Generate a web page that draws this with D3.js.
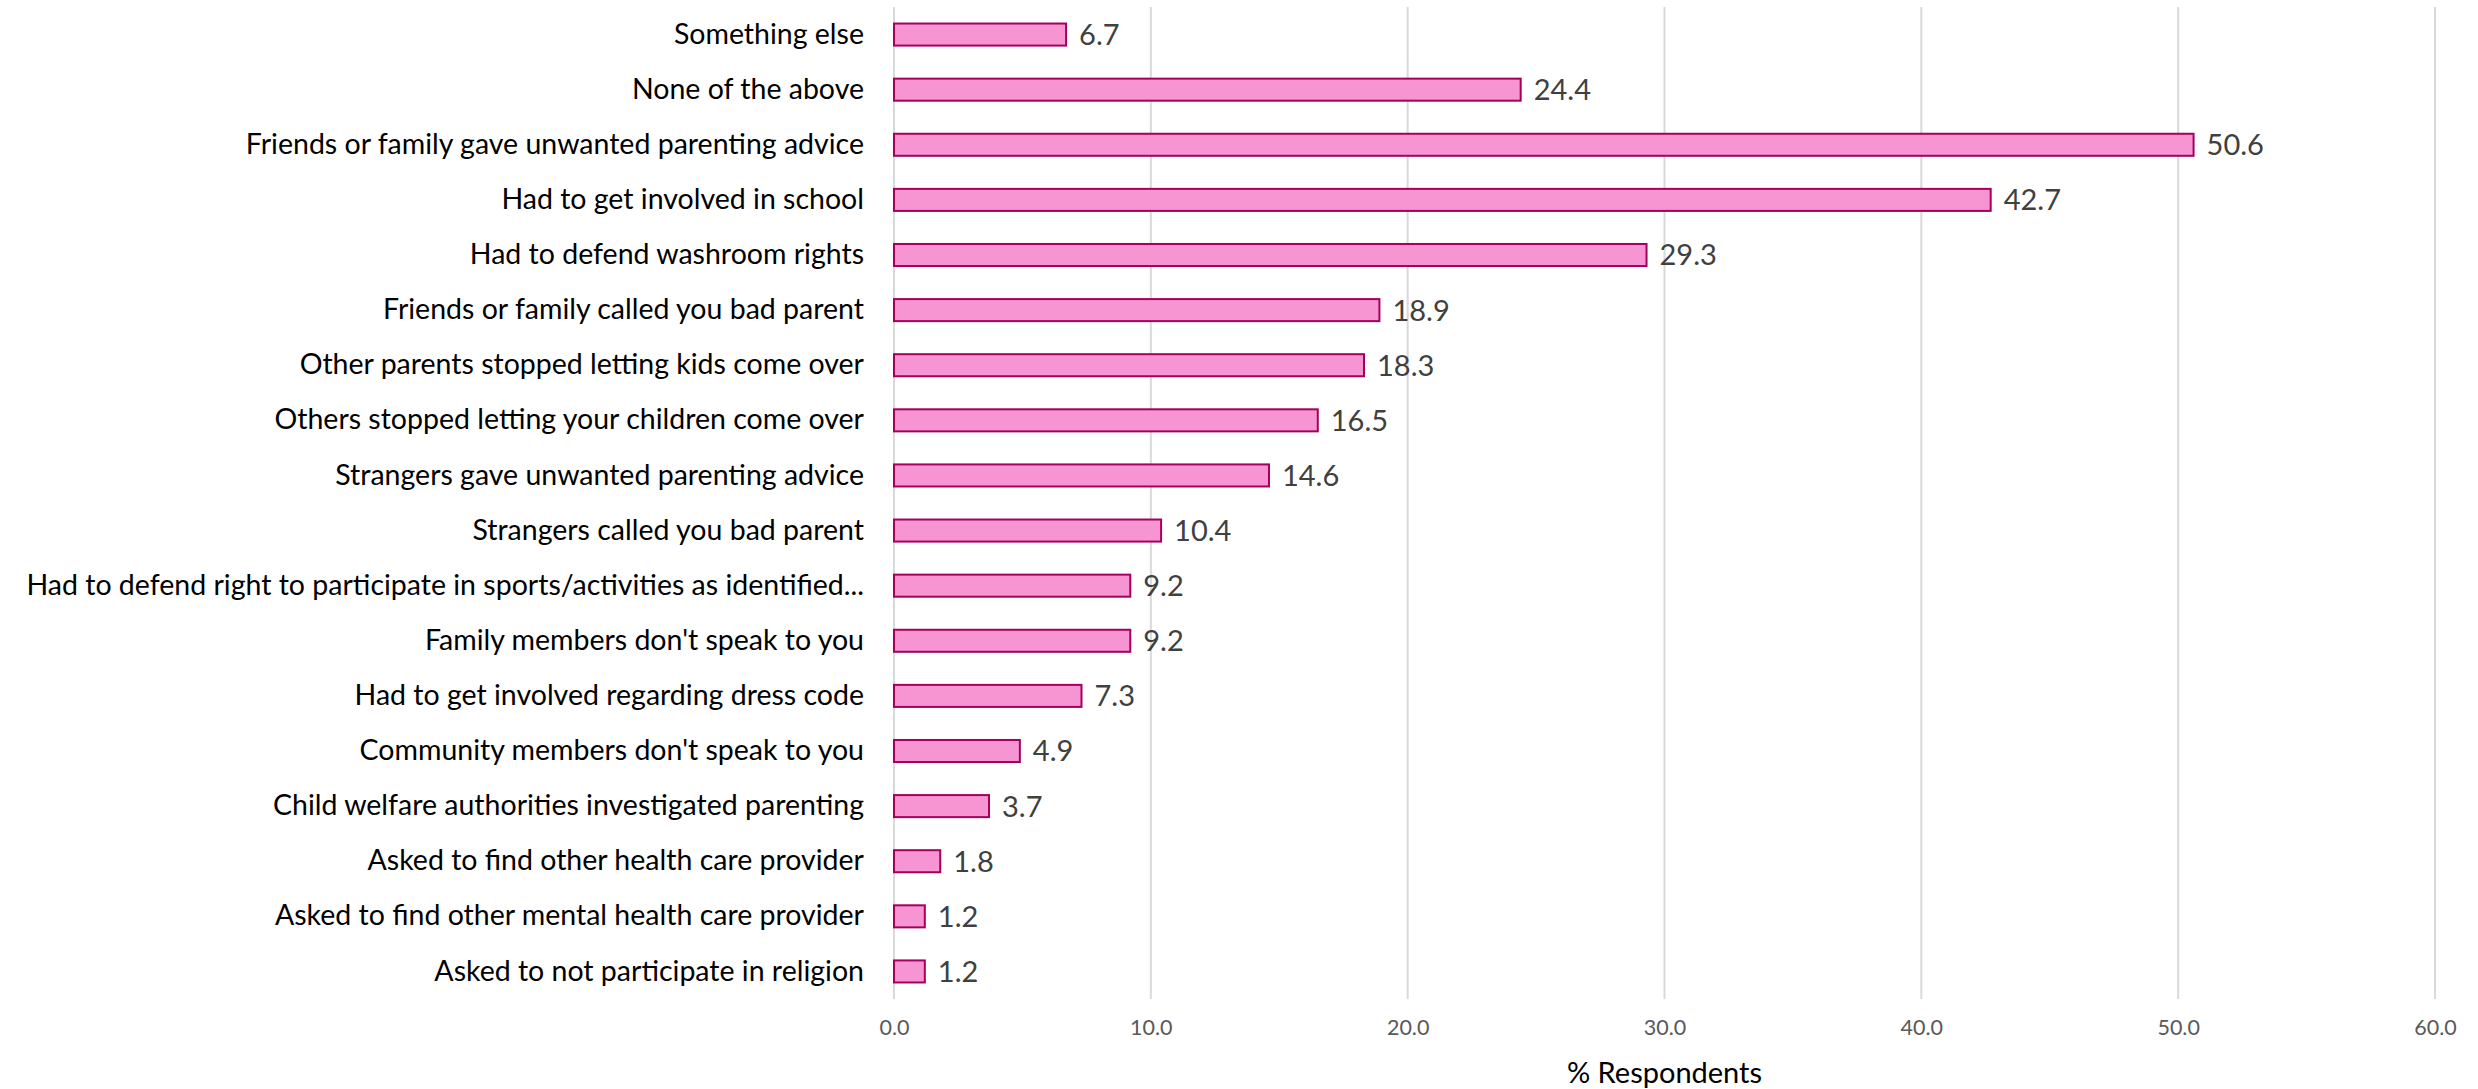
<!DOCTYPE html>
<html>
<head>
<meta charset="utf-8">
<script src="https://cdn.jsdelivr.net/npm/d3@7"></script>
<style>
  body { margin: 0; background: #fff; }
  text { font-family: Lato, "Open Sans", sans-serif; }
</style>
</head>
<body>
<div id="chart"></div>
<script>
// data, top to bottom as in the chart
var categories = [
  "Something else",
  "None of the above",
  "Friends or family gave unwanted parenting advice",
  "Had to get involved in school",
  "Had to defend washroom rights",
  "Friends or family called you bad parent",
  "Other parents stopped letting kids come over",
  "Others stopped letting your children come over",
  "Strangers gave unwanted parenting advice",
  "Strangers called you bad parent",
  "Had to defend right to participate in sports/activities as identified...",
  "Family members don't speak to you",
  "Had to get involved regarding dress code",
  "Community members don't speak to you",
  "Child welfare authorities investigated parenting",
  "Asked to find other health care provider",
  "Asked to find other mental health care provider",
  "Asked to not participate in religion"
];
var values = [6.7, 24.4, 50.6, 42.7, 29.3, 18.9, 18.3, 16.5, 14.6, 10.4, 9.2, 9.2, 7.3, 4.9, 3.7, 1.8, 1.2, 1.2];
var xTicks = [0, 10, 20, 30, 40, 50, 60];
var xTitle = "% Respondents";

var width = 2478;
var height = 1089;

var plotLeft = 894, plotRight = 2435;
var plotTop = 7, plotBottom = 999;

var svg = d3.select("#chart").append("svg").attr("width", width).attr("height", height);

var x = d3.scaleLinear().domain([0, 60]).range([plotLeft, plotRight]);
var y = d3.scaleBand().domain(categories).range([plotTop, plotBottom]).paddingInner(0.6).paddingOuter(0.3);

// gridlines
svg.append("g")
    .selectAll("line")
    .data(xTicks)
    .enter().append("line")
    .attr("x1", function(d) { return x(d); })
    .attr("x2", function(d) { return x(d); })
    .attr("y1", plotTop)
    .attr("y2", plotBottom)
    .attr("stroke", "#d9d9d9")
    .attr("stroke-width", 2);

// bars
svg.append("g")
    .selectAll("rect")
    .data(values)
    .enter().append("rect")
    .attr("x", x(0))
    .attr("y", function(d, i) { return y(categories[i]); })
    .attr("width", function(d) { return x(d) - x(0); })
    .attr("height", y.bandwidth())
    .attr("fill", "#f794d2")
    .attr("stroke", "#a3005f")
    .attr("stroke-width", 2);

// value labels
svg.append("g")
    .selectAll("text")
    .data(values)
    .enter().append("text")
    .attr("x", function(d) { return x(d) + 13; })
    .attr("y", function(d, i) { return y(categories[i]) + y.bandwidth() / 2; })
    .attr("dy", "0.36em")
    .attr("font-size", 29)
    .attr("fill", "#404040")
    .text(function(d) { return d.toFixed(1); });

// category labels
var yAxis = d3.axisLeft(y).tickSize(0).tickPadding(0);
var yg = svg.append("g")
    .attr("transform", "translate(" + (plotLeft - 30) + ",0)")
    .call(yAxis);
yg.select(".domain").remove();
yg.selectAll("text")
    .attr("font-size", 28.5)
    .attr("fill", "#000")
    .style("font-family", "Lato, 'Open Sans', sans-serif");

// x axis
var xAxis = d3.axisBottom(x).tickValues(xTicks).tickFormat(d3.format(".1f")).tickSize(0).tickPadding(0);
var xg = svg.append("g")
    .attr("transform", "translate(0," + 1020 + ")")
    .call(xAxis);
xg.select(".domain").remove();
xg.selectAll("text")
    .attr("font-size", 21.5)
    .attr("fill", "#595959")
    .style("font-family", "Lato, 'Open Sans', sans-serif");

svg.append("text")
    .attr("x", (plotLeft + plotRight) / 2)
    .attr("y", 1073)
    .attr("dy", "0.36em")
    .attr("text-anchor", "middle")
    .attr("font-size", 29)
    .attr("fill", "#000")
    .text(xTitle);
</script>
</body>
</html>
